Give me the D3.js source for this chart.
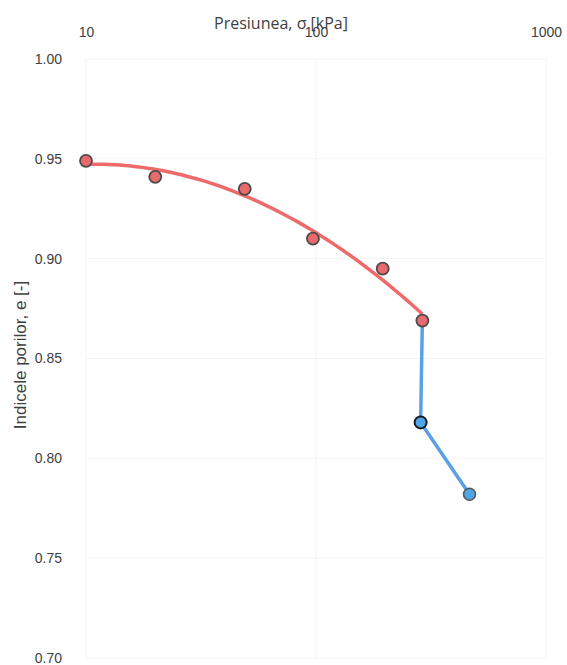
<!DOCTYPE html>
<html>
<head>
<meta charset="utf-8">
<script src="https://cdn.jsdelivr.net/npm/d3@7"></script>
<style>
  body { margin: 0; background: #fff; }
  svg { display: block; }
</style>
</head>
<body>
<svg id="chart"></svg>
<script>
// loading branch (red) and the following branch (blue)
const loadP = [10, 20, 49, 97, 195, 290]
const loadE = [0.949, 0.941, 0.935, 0.910, 0.895, 0.869]
const unloadP = [290, 285, 465]
const unloadE = [0.869, 0.818, 0.782]
const xTicks = [10, 100, 1000]
const yTicks = [0.70, 0.75, 0.80, 0.85, 0.90, 0.95, 1.00]

const width = 567
const height = 665
const margin = { top: 59, right: 21, bottom: 7, left: 86 }

const svg = d3.select('#chart')
  .attr('width', width)
  .attr('height', height)

const x = d3.scaleLog()
  .domain([10, 1000])
  .range([margin.left, width - margin.right])

const y = d3.scaleLinear()
  .domain([0.70, 1.00])
  .range([height - margin.bottom, margin.top])

// faint grid
svg.append('g')
  .selectAll('line')
  .data(yTicks)
  .enter()
  .append('line')
  .attr('x1', margin.left)
  .attr('x2', width - margin.right)
  .attr('y1', d => y(d))
  .attr('y2', d => y(d))
  .attr('stroke', '#f4f4f4')

svg.append('g')
  .selectAll('line')
  .data(xTicks)
  .enter()
  .append('line')
  .attr('x1', d => x(d))
  .attr('x2', d => x(d))
  .attr('y1', y(1.00))
  .attr('y2', y(0.70))
  .attr('stroke', '#f4f4f4')

/** Axes */
const xAxis = d3.axisTop(x)
  .tickValues(xTicks)
  .tickFormat(d3.format('d'))
  .tickSize(0)
  .tickPadding(0)

svg.append('g')
  .attr('transform', 'translate(0,37)')
  .call(xAxis)
  .call(g => g.select('.domain').remove())
  .selectAll('text')
  .attr('font-family', 'Liberation Sans, Arial, sans-serif')
  .attr('font-size', 14)
  .attr('fill', '#404040')

const yAxis = d3.axisLeft(y)
  .tickValues(yTicks)
  .tickFormat(d3.format('.2f'))
  .tickSize(0)
  .tickPadding(0)

svg.append('g')
  .attr('transform', 'translate(62,0)')
  .call(yAxis)
  .call(g => g.select('.domain').remove())
  .selectAll('text')
  .attr('font-family', 'Liberation Sans, Arial, sans-serif')
  .attr('font-size', 14)
  .attr('fill', '#404040')

// axis titles
svg.append('text')
  .attr('x', 281)
  .attr('y', 29)
  .attr('text-anchor', 'middle')
  .attr('font-family', 'Open Sans, sans-serif')
  .attr('font-size', 16)
  .attr('fill', '#404040')
  .text('Presiunea, σ [kPa]')

svg.append('text')
  .attr('transform', 'translate(26,355) rotate(-90)')
  .attr('text-anchor', 'middle')
  .attr('font-family', 'Liberation Sans, Arial, sans-serif')
  .attr('font-size', 17)
  .attr('fill', '#404040')
  .text('Indicele porilor, e [-]')

/** Lines */
const loadData = loadP.map((p, i) => ({ p, e: loadE[i] }))
const unloadData = unloadP.map((p, i) => ({ p, e: unloadE[i] }))

// quadratic trend of e against log10(p) for the loading branch
function fitQuad (pts) {
  const u = pts.map(d => Math.log10(d.p))
  const v = pts.map(d => d.e)
  const s = k => d3.sum(u, a => Math.pow(a, k))
  const t = k => d3.sum(u, (a, i) => Math.pow(a, k) * v[i])
  const A = [[s(0), s(1), s(2)], [s(1), s(2), s(3)], [s(2), s(3), s(4)]]
  const B = [t(0), t(1), t(2)]
  const det = m => m[0][0] * (m[1][1] * m[2][2] - m[1][2] * m[2][1]) -
    m[0][1] * (m[1][0] * m[2][2] - m[1][2] * m[2][0]) +
    m[0][2] * (m[1][0] * m[2][1] - m[1][1] * m[2][0])
  const D = det(A)
  const coef = [0, 1, 2].map(c => det(A.map((row, r) => row.map((val, j) => (j === c ? B[r] : val)))) / D)
  return p => {
    const a = Math.log10(p)
    return coef[0] + coef[1] * a + coef[2] * a * a
  }
}

const trend = fitQuad(loadData)
const [pMin, pMax] = d3.extent(loadP)
const trendData = d3.range(0, 61).map(i => {
  const p = pMin * Math.pow(pMax / pMin, i / 60)
  return { p, e: trend(p) }
})

const line = d3.line()
  .x(d => x(d.p))
  .y(d => y(d.e))

svg.append('path')
  .datum(unloadData)
  .attr('d', line.curve(d3.curveLinear))
  .attr('fill', 'none')
  .attr('stroke', '#5b9fe6')
  .attr('stroke-width', 3.5)

svg.append('path')
  .datum(trendData)
  .attr('d', line.curve(d3.curveLinear))
  .attr('fill', 'none')
  .attr('stroke', '#ee6a6a')
  .attr('stroke-width', 3.5)

/** Points */
svg.append('g')
  .selectAll('circle')
  .data(unloadData.slice(1))
  .enter()
  .append('circle')
  .attr('cx', d => x(d.p))
  .attr('cy', d => y(d.e))
  .attr('r', 6)
  .attr('fill', '#4ea5e8')
  .attr('stroke', (d, i) => (i === 0 ? '#1a1a1a' : '#555'))
  .attr('stroke-width', (d, i) => (i === 0 ? 2 : 1.5))

svg.append('g')
  .selectAll('circle')
  .data(loadData)
  .enter()
  .append('circle')
  .attr('cx', d => x(d.p))
  .attr('cy', d => y(d.e))
  .attr('r', 6)
  .attr('fill', '#e86a6c')
  .attr('stroke', '#4a4a4a')
  .attr('stroke-width', 1.8)
</script>
</body>
</html>
